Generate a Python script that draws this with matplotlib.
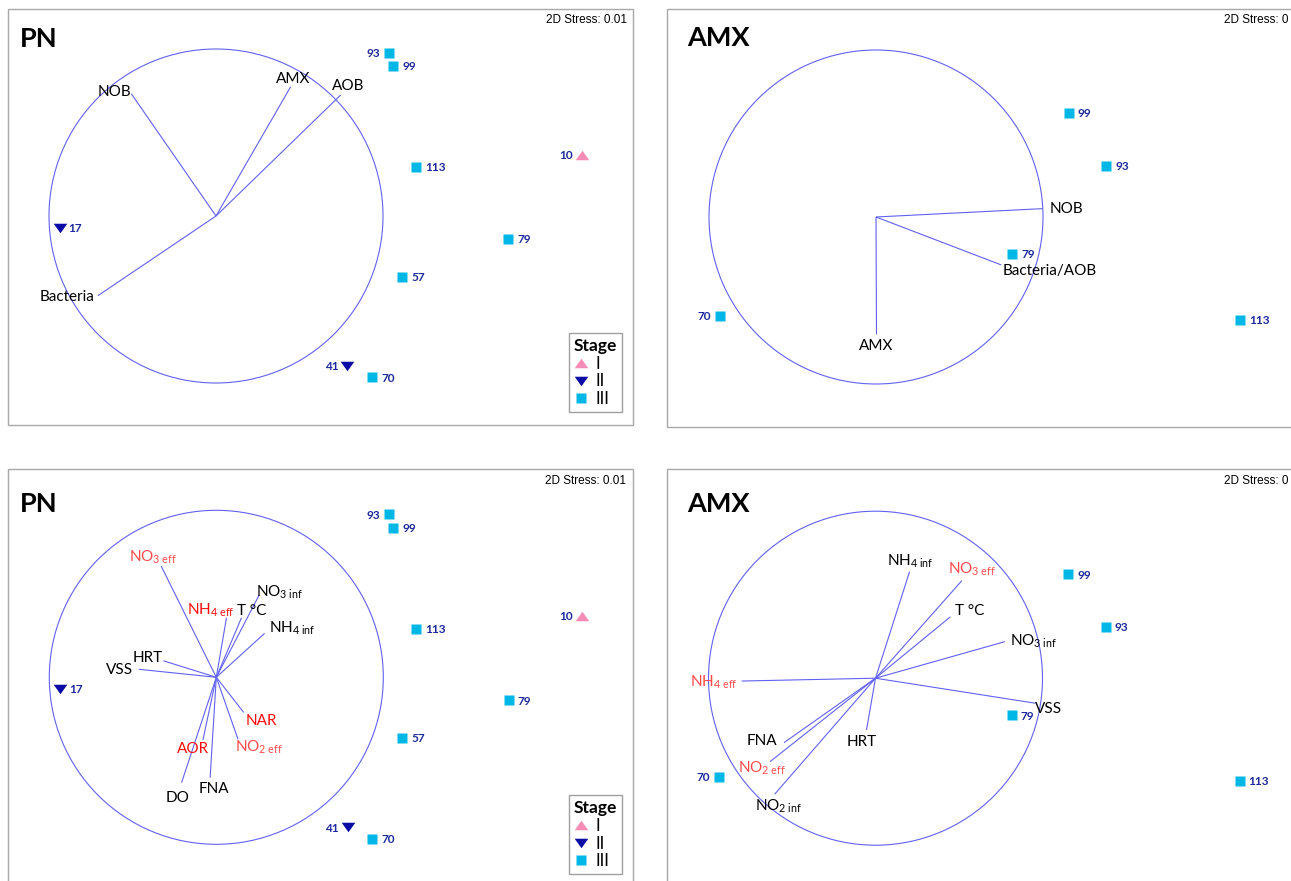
import re
import matplotlib
matplotlib.use('Agg')
import matplotlib.pyplot as plt
from matplotlib.lines import Line2D
from matplotlib.patches import Circle, Rectangle

plt.rcParams['font.family'] = ['Lato', 'DejaVu Sans']
plt.rcParams['mathtext.fontset'] = 'custom'
plt.rcParams['mathtext.rm'] = 'Lato'
plt.rcParams['mathtext.it'] = 'Lato:italic'
plt.rcParams['mathtext.bf'] = 'Lato:bold'

# ---------------- data (MDS coordinates, circle radius = 1) ----------------
pn_samples = ['93', '99', '113', '10', '17', '79', '57', '41', '70']
pn_stage = ['III', 'III', 'III', 'I', 'II', 'III', 'III', 'II', 'III']
pn_x = [1.036, 1.060, 1.197, 2.189, -0.937, 1.750, 1.114, 0.786, 0.935]
pn_y = [0.976, 0.897, 0.292, 0.368, -0.069, -0.138, -0.364, -0.898, -0.967]

amx_samples = ['99', '93', '79', '70', '113']
amx_stage = ['III', 'III', 'III', 'III', 'III']
amx_x = [1.155, 1.379, 0.815, -0.937, 2.181]
amx_y = [0.622, 0.308, -0.222, -0.591, -0.617]

pn_taxa = ['NOB', 'AMX', 'AOB', 'Bacteria']
pn_taxa_x = [-0.507, 0.447, 0.747, -0.707]
pn_taxa_y = [0.732, 0.774, 0.725, -0.477]

amx_taxa = ['NOB', 'Bacteria/AOB', 'AMX']
amx_taxa_x = [0.996, 0.750, 0.003]
amx_taxa_y = [0.050, -0.287, -0.703]

pn_env = ['NO3 eff', 'NH4 eff', 'T °C', 'NO3 inf', 'NH4 inf', 'HRT', 'VSS',
          'NAR', 'NO2 eff', 'AOR', 'FNA', 'DO']
pn_env_x = [-0.330, 0.061, 0.151, 0.257, 0.289, -0.317, -0.464,
            0.164, 0.130, -0.080, -0.037, -0.208]
pn_env_y = [0.666, 0.357, 0.357, 0.493, 0.263, 0.099, 0.048,
            -0.210, -0.371, -0.375, -0.601, -0.631]

amx_env = ['NH4 inf', 'NO3 eff', 'T °C', 'NO3 inf', 'VSS', 'HRT', 'NO2 inf',
           'NO2 eff', 'FNA', 'NH4 eff']
amx_env_x = [0.204, 0.517, 0.449, 0.775, 0.958, -0.054, -0.604,
             -0.632, -0.548, -0.801]
amx_env_y = [0.638, 0.584, 0.368, 0.219, -0.150, -0.310, -0.695,
             -0.500, -0.386, -0.017]

stress_pn = '2D Stress: 0.01'
stress_amx = '2D Stress: 0'

# ---------------- styles / layout ----------------
W, H = 1291, 881
R = 167.0  # circle radius in px
LINE_C = '#6161f2'
PT_LABEL_C = '#1c2a9c'
RED = '#ff0d0d'
LRED = '#ff4a4a'

stage_style = {
    'I': dict(marker=[(-1, -0.7), (1, -0.7), (0, 0.7)], color='#f78cb6', ms=9.8),
    'II': dict(marker=[(-1, 0.7), (1, 0.7), (0, -0.7)], color='#0b0ba6', ms=9.8),
    'III': dict(marker='s', color='#00b7e6', ms=7.2),
}

# pixel boxes (x0, y0, x1, y1) and circle centres
panels = {
    'TL': dict(box=(8, 9, 633, 425), c=(216, 216)),
    'TR': dict(box=(667, 9, 1292, 427), c=(876, 217)),
    'BL': dict(box=(8, 469, 633, 885), c=(216.3, 677.3)),
    'BR': dict(box=(667, 469, 1292, 885), c=(875.5, 678.2)),
}

# label offsets (visual centre relative to vector tip, px, +y up)
off_pn_taxa = {'NOB': (-17, 3.7), 'AMX': (2.9, 9.6), 'AOB': (7.8, 10.2),
               'Bacteria': (-30.7, 0)}
off_amx_taxa = {'NOB': (24.2, 1), 'Bacteria/AOB': (48.5, -5), 'AMX': (0, -10)}
off_pn_env = {'NO3 eff': (-7.9, 10), 'NH4 eff': (-15.6, 8.7), 'T °C': (9.8, 7.7),
              'NO3 inf': (20.8, 4.3), 'NH4 inf': (27.5, 6.6), 'HRT': (-15.8, 4.7),
              'VSS': (-19.3, 1), 'NAR': (17.8, -7), 'NO2 eff': (20.5, -6.7),
              'AOR': (-9.5, -7.3), 'FNA': (4.1, -10), 'DO': (-4.1, -14)}
off_amx_env = {'NH4 inf': (0.7, 11.7), 'NO3 eff': (10.1, 12.4), 'T °C': (18.8, 7.7),
               'NO3 inf': (28.6, 1.7), 'VSS': (13, -4.4), 'HRT': (-4.4, -11),
               'NO2 inf': (4.4, -11), 'NO2 eff': (-8, -5), 'FNA': (-21.8, 3.4),
               'NH4 eff': (-28.2, 0.3)}
col_pn_env = {'NO3 eff': LRED, 'NH4 eff': RED, 'NAR': RED, 'NO2 eff': LRED, 'AOR': RED}
col_amx_env = {'NO3 eff': LRED, 'NH4 eff': LRED, 'NO2 eff': LRED}

pn_label_side = {'93': -1, '10': -1, '41': -1}
amx_label_side = {'70': -1}

VEC_FS = 11
PT_FS = 8.5


def fmt(name):
    m = re.match(r'^(N[OH])(\d) (eff|inf)$', name)
    if m:
        return m.group(1) + r'$_{\mathregular{' + m.group(2) + r'\ ' + m.group(3) + '}}$'
    return name


def put(ax, x, y, s, dx, dy, fs, color='black', ha='center', weight='normal'):
    ax.annotate(s, xy=(x, y), xytext=(dx * 0.72, (dy - fs / 2.0) * 0.72),
                textcoords='offset points', ha=ha, va='baseline', fontsize=fs,
                color=color, fontweight=weight, annotation_clip=False)


fig = plt.figure(figsize=(W / 100, H / 100), dpi=100)


def make_axes(key):
    x0, y0, x1, y1 = panels[key]['box']
    cx, cy = panels[key]['c']
    ax = fig.add_axes([x0 / W, 1 - y1 / H, (x1 - x0) / W, (y1 - y0) / H])
    ax.set_xlim((x0 - cx) / R, (x1 - cx) / R)
    ax.set_ylim((cy - y1) / R, (cy - y0) / R)
    ax.axis('off')
    ax.add_patch(Rectangle((0, 0), 1, 1, transform=ax.transAxes, fill=False,
                           ec='#a8a8a8', lw=1.0, clip_on=False))
    ax.add_patch(Circle((0, 0), 1.0, fill=False, ec=LINE_C, lw=0.8))
    return ax


def draw_points(ax, samples, stages, xs, ys, sides):
    for s, st, x, y in zip(samples, stages, xs, ys):
        sty = stage_style[st]
        ax.plot([x], [y], ls='none', marker=sty['marker'], color=sty['color'],
                ms=sty['ms'], mec='none', zorder=3)
        side = sides.get(s, 1)
        put(ax, x, y, s, 9 * side, 0, PT_FS, color=PT_LABEL_C,
            ha='left' if side > 0 else 'right', weight='bold')


def draw_vectors(ax, names, xs, ys, offs, cols):
    for n, x, y in zip(names, xs, ys):
        ax.plot([0, x], [0, y], color=LINE_C, lw=0.8, solid_capstyle='butt')
        dx, dy = offs[n]
        put(ax, x, y, fmt(n), dx, dy, VEC_FS, color=cols.get(n, 'black'))


def draw_legend(ax, right_px, bottom_px):
    handles = [Line2D([], [], ls='none', marker=stage_style[k]['marker'],
                      color=stage_style[k]['color'], mec='none',
                      ms=stage_style[k]['ms'], label=k) for k in ['I', 'II', 'III']]
    leg = ax.legend(handles=handles, title='Stage', loc='lower right',
                    bbox_to_anchor=(right_px / W, 1 - bottom_px / H),
                    bbox_transform=fig.transFigure, fontsize=12,
                    title_fontproperties={'weight': 'bold', 'size': 12.5},
                    frameon=True, fancybox=False, framealpha=1, edgecolor='#a0a0a0',
                    borderpad=0.3, labelspacing=0.1, handlelength=0.8,
                    handletextpad=0.5, borderaxespad=0, alignment='left')
    leg.get_frame().set_linewidth(1.0)


def fig_text(x, y_center, s, fs, ha='left', weight='normal', family=None):
    kw = {}
    if family:
        kw['family'] = family
    fig.text(x / W, 1 - (y_center + fs / 2.0) / H, s, fontsize=fs, ha=ha,
             va='baseline', fontweight=weight, **kw)


# Top-left: PN taxa
ax = make_axes('TL')
draw_vectors(ax, pn_taxa, pn_taxa_x, pn_taxa_y, off_pn_taxa, {})
draw_points(ax, pn_samples, pn_stage, pn_x, pn_y, pn_label_side)
draw_legend(ax, 622.4, 412)

# Top-right: AMX taxa
ax = make_axes('TR')
draw_vectors(ax, amx_taxa, amx_taxa_x, amx_taxa_y, off_amx_taxa, {})
draw_points(ax, amx_samples, amx_stage, amx_x, amx_y, amx_label_side)

# Bottom-left: PN env
ax = make_axes('BL')
draw_vectors(ax, pn_env, pn_env_x, pn_env_y, off_pn_env, col_pn_env)
draw_points(ax, pn_samples, pn_stage, pn_x, pn_y, pn_label_side)
draw_legend(ax, 622.4, 874.3)

# Bottom-right: AMX env
ax = make_axes('BR')
draw_vectors(ax, amx_env, amx_env_x, amx_env_y, off_amx_env, col_amx_env)
draw_points(ax, amx_samples, amx_stage, amx_x, amx_y, amx_label_side)

# titles and stress values
fig_text(20, 37.3, 'PN', 19.5, weight='bold')
fig_text(687, 36.5, 'AMX', 19.5, weight='bold')
fig_text(20, 502.5, 'PN', 19.5, weight='bold')
fig_text(687, 502.5, 'AMX', 19.5, weight='bold')
fig_text(626.5, 18.5, stress_pn, 8.5, ha='right', family='Liberation Sans')
fig_text(1288, 19, stress_amx, 8.5, ha='right', family='Liberation Sans')
fig_text(626, 479.5, stress_pn, 8.5, ha='right', family='Liberation Sans')
fig_text(1288, 479.5, stress_amx, 8.5, ha='right', family='Liberation Sans')

fig.savefig('out.png', dpi=100, facecolor='white')
